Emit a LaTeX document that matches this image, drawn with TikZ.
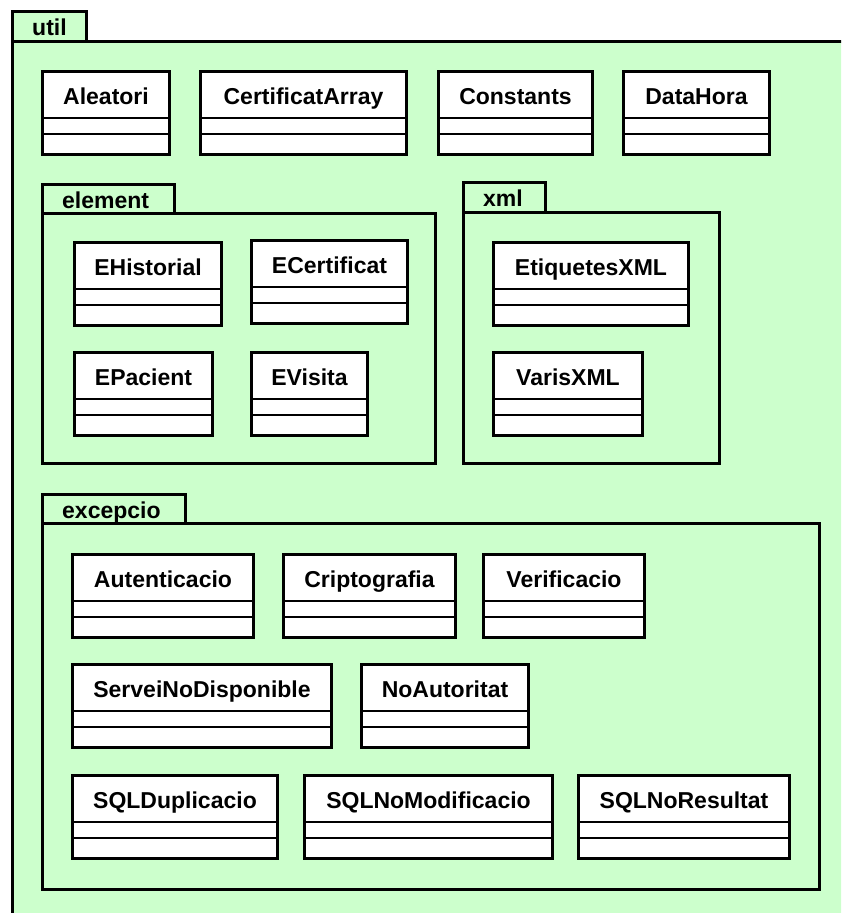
\documentclass[tikz,border=0pt]{standalone}
\usepackage{fontspec}
\setmainfont{Liberation Sans}
\definecolor{pkggreen}{RGB}{204,255,204}
\tikzset{
  pkgshape/.style={draw=black, fill=pkggreen, line width=3pt},
  classbox/.style={rectangle, draw=black, fill=white, line width=3pt, inner sep=0pt, outer sep=0pt},
  divider/.style={draw=black, line width=2pt},
  labelfont/.style={font=\bfseries\fontsize{23}{27}\selectfont, inner sep=0pt},
  classname/.style={labelfont, anchor=base},
  pkgname/.style={labelfont, anchor=base west},
}
% UML class: #1 name, #2 left, #3 top, #4 right (outer edges), #5 label
\newcommand\umlclass[5]{%
  \node[classbox, anchor=north west, minimum width={(#4-#2-3)*1pt}, minimum height=83pt]
    (#1) at ({#2+1.5},{#3+1.5}) {};
  \draw[divider] ([yshift=-46.5pt]#1.north west) -- ([yshift=-46.5pt]#1.north east);
  \draw[divider] ([yshift=-62.5pt]#1.north west) -- ([yshift=-62.5pt]#1.north east);
  \node[classname] (#1-name) at ([yshift=-32.5pt]#1.north) {#5};
}
% UML package: #1 name, #2 left, #3 tab top, #4 tab right, #5 body top, #6 right, #7 bottom, #8 label
\newcommand\umlpackage[8]{%
  \draw[pkgshape] (#2,#3) rectangle (#4,#5);
  \draw[pkgshape] (#2,#5) rectangle (#6,#7);
  \node[pkgname] (#1) at ({#2+19.5},{#3+24}) {#8};
}
\begin{document}
\begin{tikzpicture}[x=1pt,y=-1pt]
  \useasboundingbox (0,0) rectangle (841,913);
  \fill[white] (0,0) rectangle (841,913);
  \clip (0,0) rectangle (841,913);

  % outer package
  \umlpackage{util}{12.5}{11.5}{86}{41}{900}{950}{util}

  % top-level classes
  \umlclass{aleatori}{41}{70}{171}{Aleatori}
  \umlclass{certarray}{199}{70}{408}{CertificatArray}
  \umlclass{constants}{437}{70}{594}{Constants}
  \umlclass{datahora}{622}{70}{771}{DataHora}

  % package element
  \umlpackage{element}{42.5}{184.5}{174}{213.5}{435.5}{463.5}{element}
  \umlclass{ehistorial}{73}{241}{223}{EHistorial}
  \umlclass{ecertificat}{250}{239}{409}{ECertificat}
  \umlclass{epacient}{73}{351}{214}{EPacient}
  \umlclass{evisita}{250}{351}{369}{EVisita}

  % package xml
  \umlpackage{xml}{463.5}{182.5}{545}{212.5}{719.5}{463.5}{xml}
  \umlclass{etiquetes}{492}{241}{690}{EtiquetesXML}
  \umlclass{varis}{492}{351}{644}{VarisXML}

  % package excepcio
  \umlpackage{excepcio}{42.5}{494.5}{185.5}{523.5}{819.5}{889}{excepcio}
  \umlclass{autenticacio}{71}{553}{255}{Autenticacio}
  \umlclass{criptografia}{282}{553}{457}{Criptografia}
  \umlclass{verificacio}{482}{553}{646}{Verificacio}
  \umlclass{servei}{71}{663}{333}{ServeiNoDisponible}
  \umlclass{noautoritat}{360}{663}{530}{NoAutoritat}
  \umlclass{sqldup}{71}{774}{279}{SQLDuplicacio}
  \umlclass{sqlnomod}{303}{774}{554}{SQLNoModificacio}
  \umlclass{sqlnores}{577}{774}{791}{SQLNoResultat}
\end{tikzpicture}
\end{document}
